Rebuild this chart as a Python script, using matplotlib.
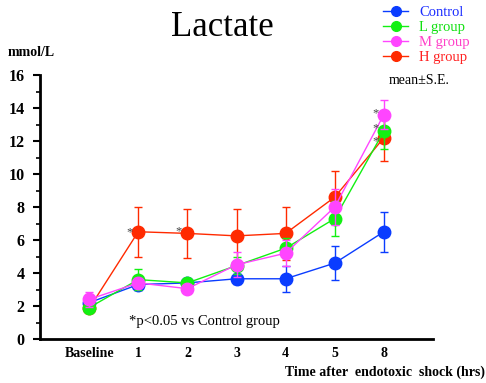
import matplotlib
matplotlib.use("Agg")
import matplotlib.pyplot as plt
from matplotlib.lines import Line2D

plt.rcParams['font.family'] = ['Liberation Serif', 'DejaVu Serif']

categories = ["Baseline", "1", "2", "3", "4", "5", "8"]
control = [2.2, 3.3, 3.4, 3.65, 3.65, 4.6, 6.5]
control_se = [0.25, 0.3, 0.2, 0.3, 0.8, 1.05, 1.2]
l_group = [1.9, 3.6, 3.4, 4.45, 5.5, 7.3, 12.6]
l_group_se = [0.25, 0.65, 0.2, 0.5, 0.6, 1.05, 1.1]
m_group = [2.4, 3.4, 3.05, 4.5, 5.2, 8.0, 13.6]
m_group_se = [0.45, 0.3, 0.2, 0.75, 0.8, 1.1, 0.87]
h_group = [1.85, 6.5, 6.4, 6.25, 6.4, 8.6, 12.2]
h_group_se = [0.2, 1.5, 1.5, 1.6, 1.6, 1.6, 1.4]
star_points = [(1, 6.45), (2, 6.55), (6, 13.65), (6, 12.75), (6, 12.0)]

series = [
    ("Control", control, control_se, "#0a3cff", 3),
    ("H group", h_group, h_group_se, "#ff2a00", 4),
    ("L group", l_group, l_group_se, "#12f012", 5),
    ("M group", m_group, m_group_se, "#ff45ff", 6),
]

fig = plt.figure(figsize=(4.86, 3.83), dpi=100)
ax = fig.add_axes([40/486, 1 - 339/383, (433-40)/486, (339-75)/383])
x = list(range(len(categories)))

for name, vals, se, col, z in series:
    ax.errorbar(x, vals, yerr=se, color=col, lw=1.0, marker='o', ms=9,
                mec=col, mfc=col, capsize=3, elinewidth=1.0, capthick=1.0,
                zorder=z, clip_on=False)

for sx, sy in star_points:
    ax.text(sx - 0.18, sy, "*", color="#444444", fontsize=9,
            ha='center', va='center', zorder=10)

ax.set_xlim(-1, 7)
ax.set_ylim(0, 16)
ax.set_xticks(x)
ax.set_xticklabels(categories, fontsize=10, fontweight='bold')
ax.tick_params(axis='x', length=0, pad=6)
ax.set_yticks(range(0, 17, 2))
ax.set_yticks(range(1, 16, 2), minor=True)
ax.set_yticklabels([str(v) for v in range(0, 17, 2)], fontsize=11.5, fontweight='bold')
ax.tick_params(axis='y', which='major', length=5, width=1.5, direction='out', pad=6)
ax.tick_params(axis='y', which='minor', length=3, width=1.2, direction='out')
for s in ['top', 'right']:
    ax.spines[s].set_visible(False)
ax.spines['left'].set_linewidth(2)
ax.spines['bottom'].set_linewidth(2)
ax.patch.set_alpha(0)

fig.text(222/486, 1 - 28/383, "Lactate", fontsize=25, ha='center', va='center')
fig.text(8/486, 1 - 52/383, "mmol/L", fontsize=10, fontweight='bold', ha='left', va='center')
fig.text(129/486, 1 - 321/383, "*p<0.05 vs Control group", fontsize=10.5, ha='left', va='center')
fig.text(485/486, 1 - 372/383, "Time after  endotoxic  shock (hrs)", fontsize=10,
         fontweight='bold', ha='right', va='center')
fig.text(389/486, 1 - 80/383, "mean±S.E.", fontsize=10, ha='left', va='center')

order = [("Control", "#0a3cff", "#1a2cff"), ("L group", "#12f012", "#10e010"),
         ("M group", "#ff45ff", "#ff40c8"), ("H group", "#ff2a00", "#ff2020")]
handles = [Line2D([0], [0], color=c, marker='o', ms=7, lw=1.0) for _, c, _ in order]
leg = fig.legend(handles, [n for n, _, _ in order], loc='upper left',
                 bbox_to_anchor=(373/486, 1 + 4/383), frameon=False, fontsize=10.5,
                 handlelength=1.7, handletextpad=0.75, labelspacing=0.12, borderpad=0.2)
for t, (_, _, tc) in zip(leg.get_texts(), order):
    t.set_color(tc)

fig.savefig("out.png", dpi=100)
